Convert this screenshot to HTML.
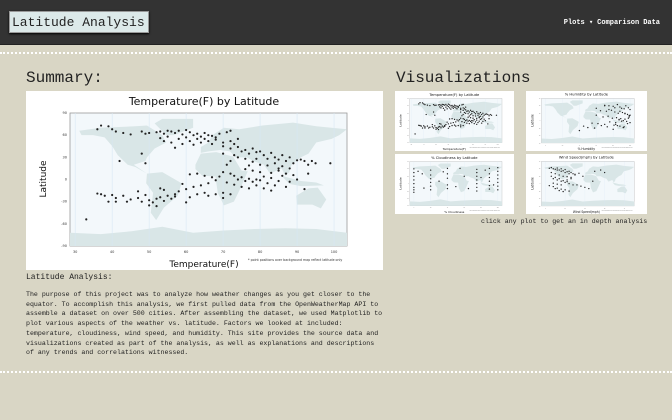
<!DOCTYPE html>
<html><head><meta charset="utf-8">
<style>
*{margin:0;padding:0;box-sizing:border-box}
body{width:672px;height:420px;overflow:hidden;background:#d9d6c5;font-family:"Liberation Mono",monospace;position:relative}
#nav{position:absolute;left:0;top:0;width:672px;height:45px;background:#333;border-bottom:1px solid #222}
#brand{position:absolute;left:9px;top:11px;width:140px;height:22px;background:#dce9e9;border:1px solid #999;color:#222;box-shadow:0 1px 2px #000;overflow:hidden}
#brand span{display:block;white-space:nowrap;font-size:13px;line-height:21px;padding-left:2px}
#links{position:absolute;right:12px;top:18px;font-size:7px;color:#fff;font-weight:bold;white-space:nowrap}
#links span{margin-left:4px}
.dash{position:absolute;left:0;width:672px;height:3px;border-top:2px dotted #fff}
h2{position:absolute;font-weight:normal;font-size:16px;color:#222;white-space:nowrap}
.box{position:absolute;background:#fff}
#sub{position:absolute;left:26px;top:273px;font-size:8px;color:#222}
#para{position:absolute;left:26px;top:290px;width:360px;font-size:6.6px;line-height:9.7px;color:#222}
#cap{position:absolute;left:481px;top:218px;font-size:6.6px;color:#222;white-space:nowrap}
</style></head><body>
<div id="nav">
<div id="brand"><span>Latitude Analysis</span></div>
<div id="links"><span>Plots ▾</span><span>Comparison</span><span>Data</span></div>
</div>
<div class="dash" style="top:52px"></div>
<h2 style="left:26px;top:69px">Summary:</h2>
<h2 style="left:396px;top:69px">Visualizations</h2>
<svg class="box" id="main" style="left:26px;top:91px" width="357" height="179" viewBox="0 0 357 179"></svg>
<svg class="box" id="t1" style="left:395px;top:91px" width="119" height="60" viewBox="0 0 357 179"></svg>
<svg class="box" id="t2" style="left:526px;top:91px" width="121" height="60" viewBox="0 0 357 179"></svg>
<svg class="box" id="t3" style="left:395px;top:154px" width="119" height="60" viewBox="0 0 357 179"></svg>
<svg class="box" id="t4" style="left:526px;top:154px" width="121" height="60" viewBox="0 0 357 179"></svg>
<div id="cap">click any plot to get an in depth analysis</div>
<div id="sub">Latitude Analysis:</div>
<div id="para">The purpose of this project was to analyze how weather changes as you get closer to the equator. To accomplish this analysis, we first pulled data from the OpenWeatherMap API to assemble a dataset on over 500 cities. After assembling the dataset, we used Matplotlib to plot various aspects of the weather vs. latitude. Factors we looked at included: temperature, cloudiness, wind speed, and humidity. This site provides the source data and visualizations created as part of the analysis, as well as explanations and descriptions of any trends and correlations witnessed.</div>
<div class="dash" style="top:371px"></div>
<script>
const tempX=[37,39,36,40,41,43,45,48,49,50,52,53,54,55,56,57,58,59,60,61,62,63,64,65,66,67,68,69,71,72,55,58,60,61,63,64,65,66,67,68,70,72,73,74,54,56,59,62,53,57,
70,72,74,75,76,77,78,79,80,81,82,83,84,85,86,87,88,89,90,91,92,93,94,95,99,76,78,80,82,84,86,88,74,72,71,70,73,77,79,85,87,48,49,42,
61,63,65,67,69,70,72,73,74,75,76,77,78,79,80,81,82,83,84,85,86,87,88,89,90,92,93,71,73,75,77,79,81,83,76,78,80,68,66,64,62,60,58,57,59,85,83,
36,37,38,40,41,43,44,45,47,48,49,50,51,52,53,54,55,56,57,53,54,60,61,63,65,66,68,70,70,72,39,41,47,52,50,33];
const tempLat=[73,72,68,68,65,63,61,65,62,63,64,65,62,66,65,63,66,61,67,64,60,62,58,63,60,59,57,62,64,66,58,55,57,52,55,50,55,52,48,54,50,52,48,55,52,50,48,47,56,43,
45,42,44,38,40,35,42,37,38,33,28,36,30,27,33,25,30,22,26,27,25,20,25,22,22,28,24,20,19,22,18,15,30,25,20,35,33,19,28,12,8,35,22,25,
7,8,5,3,4,10,8,5,0,3,-2,1,-3,0,-1,4,-5,2,-8,-2,5,-10,-3,6,0,-13,8,-4,-7,-10,-12,-8,-12,-15,14,12,10,-1,-5,-8,-10,-13,-16,-20,-6,15,9,
-19,-20,-22,-21,-25,-22,-30,-27,-25,-30,-21,-28,-31,-26,-24,-29,-22,-26,-23,-12,-14,-31,-24,-20,-18,-22,-20,-18,-25,-20,-30,-30,-16,-36,-35,-54];
const humX=[70,75,80,85,88,90,93,95,98,100,65,72,78,82,86,91,94,97,99,60,68,74,79,84,87,89,92,96,100,55,62,70,76,81,85,88,93,97,50,58,66,73,80,83,87,90,94,99,45,75,82,88,94,100,40,60,70,83,92,98];
const humLat=[62,60,58,65,55,50,48,60,52,45,40,38,42,35,30,33,28,25,20,22,15,18,10,12,5,8,0,-3,-8,-10,-12,-15,-5,-18,-20,-22,-25,-12,-28,-30,-20,-25,-35,-8,3,-2,6,15,-22,45,52,38,30,22,-40,50,60,-15,-28,10];
const cloudX=[0,0,0,0,0,0,0,0,20,20,20,20,20,20,40,40,40,40,40,75,75,75,75,75,75,75,90,90,90,90,90,90,100,100,100,100,100,100,100,5,10,30,50,60,65,85,95,12,35,55,80];
const cloudLat=[60,45,30,15,0,-15,-25,-35,55,35,20,5,-10,-25,62,40,22,-5,-20,58,45,30,15,0,-15,-30,62,40,25,10,-8,-22,65,50,35,20,5,-10,-25,50,40,10,-12,30,-20,55,-5,-18,48,62,25];
const windX=[2,3,4,5,6,7,8,9,10,11,12,13,14,15,3,5,7,9,11,13,4,6,8,10,12,16,18,20,22,2,4,6,8,10,12,14,3,5,7,9,11,15,17,25,30,6,8,10,12,5,7,9,4,6,8,11,13,19,24,28];
const windLat=[62,65,60,58,63,55,60,52,57,48,50,45,40,38,45,40,35,30,28,25,20,15,10,5,0,-5,-10,-15,-20,-8,-12,-18,-22,-25,-30,-5,30,25,20,12,8,35,42,50,45,55,50,45,40,-20,-28,-32,2,-2,-5,15,20,30,10,55];

const NS='http://www.w3.org/2000/svg';
const continents=[
[[-168,66],[-140,70],[-95,72],[-80,73],[-60,60],[-55,50],[-70,42],[-80,30],[-82,25],[-97,20],[-90,15],[-80,8],[-95,17],[-105,20],[-118,33],[-125,45],[-135,57],[-150,60],[-165,60]],
[[-55,60],[-45,60],[-20,70],[-20,82],[-60,82],[-70,76]],
[[-80,8],[-60,10],[-35,-5],[-40,-22],[-58,-38],[-68,-55],[-75,-45],[-72,-18],[-81,-5]],
[[-10,36],[-10,44],[0,50],[5,60],[20,70],[40,68],[70,73],[110,77],[140,72],[180,68],[170,60],[160,55],[140,50],[130,35],[120,30],[108,20],[105,10],[100,5],[95,15],[80,8],[72,20],[58,25],[50,30],[35,30],[28,38],[15,40],[0,38]],
[[-17,20],[-10,35],[10,37],[32,31],[43,12],[51,11],[40,-15],[33,-30],[20,-35],[12,-18],[9,4],[-8,5],[-17,14]],
[[114,-22],[130,-12],[142,-11],[153,-27],[146,-39],[135,-34],[115,-34]],
[[95,5],[120,-2],[140,-4],[150,-8],[120,-9],[105,-6]],
[[-180,-72],[-140,-74],[-100,-70],[-60,-64],[-20,-72],[20,-69],[60,-67],[100,-66],[140,-67],[180,-72],[180,-90],[-180,-90]]
];
function el(p,tag,attrs){const e=document.createElementNS(NS,tag);for(const k in attrs)e.setAttribute(k,attrs[k]);p.appendChild(e);return e;}
function chart(id,title,xlabel,xs,ys,xmin,xmax,ticks,note,rad){
  const svg=document.getElementById(id);
  const L=44,R=321,T=22,B=155;
  const sx=v=>L+(v-xmin)/(xmax-xmin)*(R-L);
  const sy=v=>B-(v+90)/180*(B-T);
  const t=el(svg,'text',{x:178,y:14,'text-anchor':'middle','font-size':11,'font-family':'DejaVu Sans, sans-serif',fill:'#111'});t.textContent=title;
  
  
  el(svg,'rect',{x:L,y:T,width:R-L,height:B-T,fill:'#f3f8fb',stroke:'#999','stroke-width':0.8});
  const mx=lon=>L+(lon+180)/360*(R-L);
  continents.forEach(c=>{
    const p=el(svg,'polygon',{points:c.map(q=>mx(q[0])+','+sy(q[1])).join(' '),fill:'#d9e6e7'});
    
    
  });
  ticks.forEach(v=>{
    el(svg,'line',{x1:sx(v),x2:sx(v),y1:T,y2:B,stroke:'#d8e8f4','stroke-width':0.6});
    const tx=el(svg,'text',{x:sx(v),y:B+7,'text-anchor':'middle','font-size':3.5,'font-family':'DejaVu Sans, sans-serif',fill:'#333'});tx.textContent=v;
    
    
  });
  [-90,-60,-30,0,30,60,90].forEach(v=>{
    const ty=el(svg,'text',{x:L-3,y:sy(v)+1,'text-anchor':'end','font-size':3.5,'font-family':'DejaVu Sans, sans-serif',fill:'#333'});ty.textContent=v;
    
    
  });
  xs.forEach((v,i)=>{
    const c=el(svg,'circle',{cx:sx(v),cy:sy(ys[i]),r:rad,fill:'#222'});
    
    
  });
  const yl=el(svg,'text',{x:0,y:0,transform:'translate(20,88) rotate(-90)','text-anchor':'middle','font-size':9,'font-family':'DejaVu Sans, sans-serif',fill:'#111'});yl.textContent='Latitude';
  
  
  const xl=el(svg,'text',{x:178,y:176,'text-anchor':'middle','font-size':9,'font-family':'DejaVu Sans, sans-serif',fill:'#111'});xl.textContent=xlabel;
  
  
  const n=el(svg,'text',{x:222,y:170,'font-size':3.2,'font-family':'DejaVu Sans, sans-serif',fill:'#333'});n.textContent=note;
  
  
}
const note='* point positions over background map reflect latitude only';
const tT=[30,40,50,60,70,80,90,100];
chart('main','Temperature(F) by Latitude','Temperature(F)',tempX,tempLat,28.6,103.5,tT,note,1.1);
chart('t1','Temperature(F) by Latitude','Temperature(F)',tempX,tempLat,28.6,103.5,tT,note,2);
chart('t2','% Humidity by Latitude','% Humidity',humX,humLat,-5,105,[0,20,40,60,80,100],note,2);
chart('t3','% Cloudiness by Latitude','% Cloudiness',cloudX,cloudLat,-5,105,[0,20,40,60,80,100],note,2);
chart('t4','Wind Speed(mph) by Latitude','Wind Speed(mph)',windX,windLat,-2,45,[0,10,20,30,40],note,2);
</script>
</body></html>
